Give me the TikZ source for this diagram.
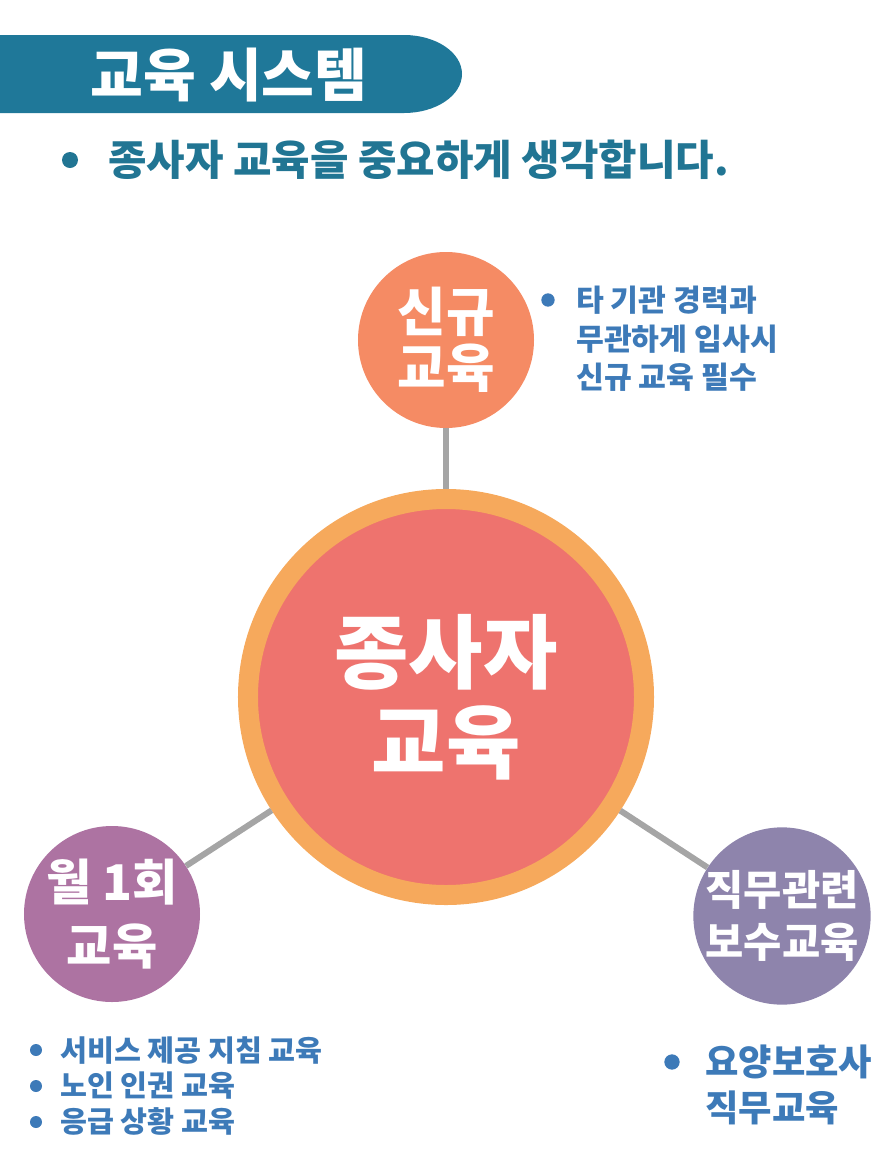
\documentclass[tikz,border=0pt]{standalone}
\usepackage{fontspec}
\setmainfont{Noto Sans CJK KR}
\usetikzlibrary{positioning}

\definecolor{barteal}{HTML}{1F7899}
\definecolor{leadteal}{HTML}{217593}
\definecolor{notblue}{HTML}{3D7AB8}
\definecolor{newor}{HTML}{F58B64}
\definecolor{hubring}{HTML}{F6A95C}
\definecolor{hubfill}{HTML}{EE736E}
\definecolor{monthpur}{HTML}{AD73A2}
\definecolor{jobpur}{HTML}{8E84AC}
\definecolor{linkgray}{HTML}{A5A5A5}

\tikzset{
  bubble/.style={circle,inner sep=0pt,minimum size=5.28cm,text=white,align=center},
  link/.style={linkgray,line width=0.18cm},
  dot/.style={circle,inner sep=0pt,minimum size=#1},
  note/.style={anchor=west,inner sep=0pt,align=left,text=notblue}
}

\begin{document}
\begin{tikzpicture}[x=0.03cm,y=-0.03cm]
  \useasboundingbox (0,0) rectangle (890,1167);
  % title bar
  \fill[barteal] (0,35) -- (404,35) arc[start angle=-90,end angle=90,x radius=58,y radius=39] -- (0,113) -- cycle;
  \node[text=white,inner sep=0pt,font=\fontsize{49}{54}\selectfont\bfseries] (title) at (229,75) {교육 시스템};
  \node[dot=0.48cm,fill=leadteal] (d0) at (70,160) {};
  \node[anchor=west,inner sep=0pt,text=leadteal,font=\fontsize{35.7}{40}\selectfont\bfseries] (lead) at (108,160) {종사자 교육을 중요하게 생각합니다.};

  % circles
  \node[bubble,fill=newor,font=\fontsize{45}{48}\selectfont\bfseries] (new) at (446,340) {신규\\교육};
  \node[circle,inner sep=0pt,minimum size=11.88cm,fill=hubfill,draw=hubring,line width=0.6cm,
        text=white,align=center,font=\fontsize{69}{77}\selectfont\bfseries] (hub) at (446,697) {종사자\\교육};
  \node[bubble,fill=monthpur,font=\fontsize{42}{55}\selectfont\bfseries] (month) at (112,914) {월 1회\\교육};
  \node[bubble,fill=jobpur,font=\fontsize{35.5}{44}\selectfont\bfseries] (job) at (782,916) {직무관련\\보수교육};

  \draw[link] (new) -- (hub);
  \draw[link] (hub) -- (month);
  \draw[link] (hub) -- (job);

  % notes
  \node[dot=0.4cm,fill=notblue] (d1) at (548,300) {};
  \node[note,font=\fontsize{25.8}{33}\selectfont\bfseries] (newtxt) at (576,339) {타 기관 경력과\\무관하게 입사시\\신규 교육 필수};
  \node[dot=0.36cm,fill=notblue] (d2) at (36,1050) {};
  \node[dot=0.36cm,fill=notblue] (d3) at (36,1086) {};
  \node[dot=0.36cm,fill=notblue] (d4) at (36,1122) {};
  \node[note,font=\fontsize{25}{30.6}\selectfont\bfseries] (monthtxt) at (60,1086) {서비스 제공 지침 교육\\노인 인권 교육\\응급 상황 교육};
  \node[dot=0.46cm,fill=notblue] (d5) at (672,1062) {};
  \node[note,font=\fontsize{31}{39}\selectfont\bfseries] (jobtxt) at (705,1085) {요양보호사\\직무교육};
\end{tikzpicture}
\end{document}
